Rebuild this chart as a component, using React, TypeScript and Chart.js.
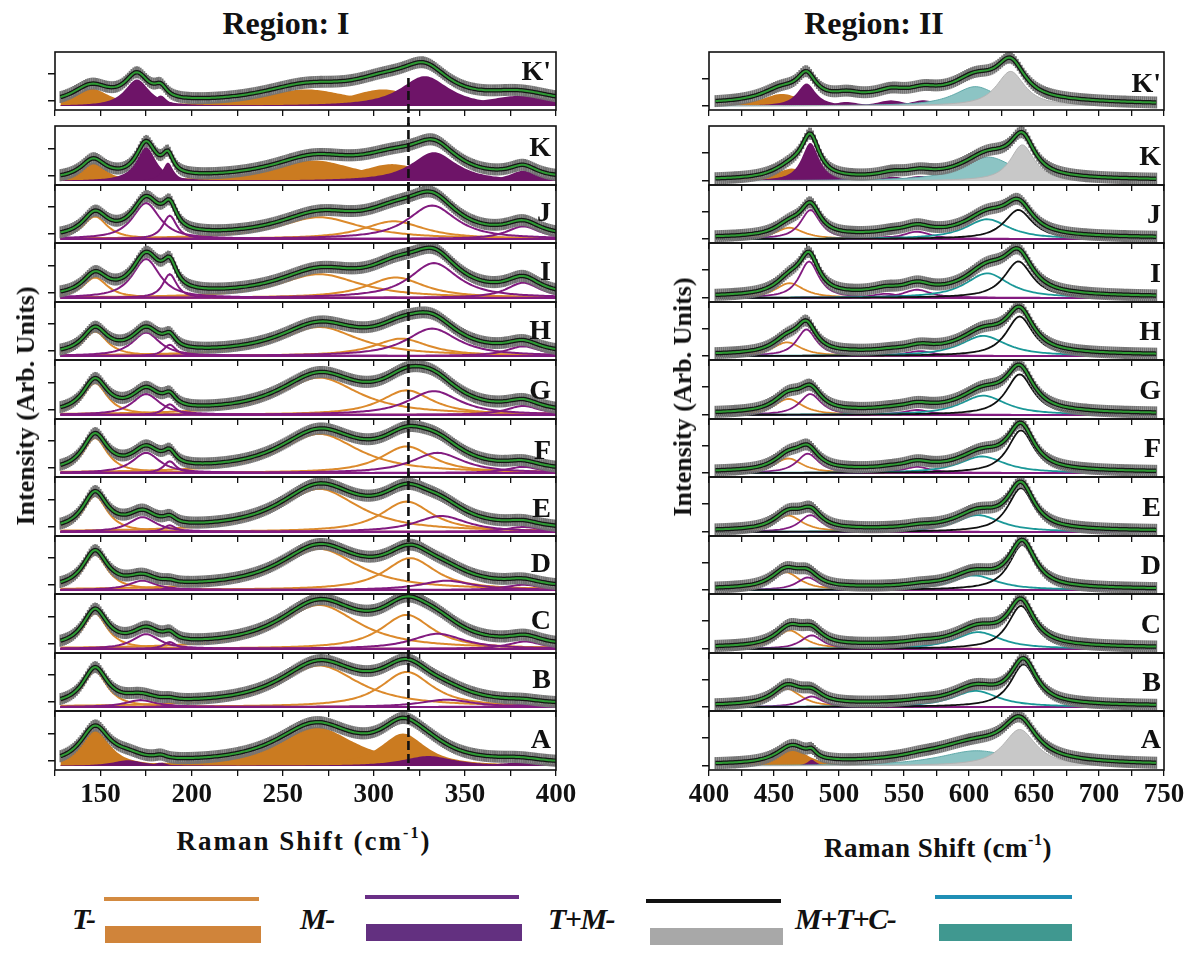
import React, { useEffect, useRef } from "react";
import { Chart, registerables } from "chart.js";

Chart.register(...registerables);

// ------------------------------------------------------------------ DATA
// Panels from bottom (A) to top (K'); every per-panel array below follows this order.
const PANELS = ["A", "B", "C", "D", "E", "F", "G", "H", "I", "J", "K", "K'"];
const FILLED_PANELS = ["A", "K", "K'"];

// Axes
const R1_X_TICKS = [125, 150, 175, 200, 225, 250, 275, 300, 325, 350, 375, 400];
const R1_X_LABELS = [150, 200, 250, 300, 350, 400];
const R2_X_TICKS = [400, 425, 450, 475, 500, 525, 550, 575, 600, 625, 650, 675, 700, 725, 750];
const R2_X_LABELS = [400, 450, 500, 550, 600, 650, 700, 750];
const R1_Y_TICKS = [0.12, 0.79];
const R2_Y_TICKS = [0, 0.68];
const R1_REF_SHIFT = 319; // dashed reference line (cm-1)

// Measured spectra: sampling of the Raman shift and error-bar half size
const R1_SHIFT_FROM = 128;
const R1_SHIFT_TO = 400;
const R1_SHIFT_STEP = 1;
const R2_SHIFT_FROM = 405;
const R2_SHIFT_TO = 745;
const R2_SHIFT_STEP = 1.5;
const R1_ERR = 0.14;
const R2_ERR = 0.14;

// ---- Region I fitted bands (centre cm-1, height arb., FWHM cm-1), per panel A..K'
const R1_T147_CENTER = [147, 147, 147, 147, 147, 147, 147, 147, 147, 147, 146, 145];
const R1_T147_HEIGHT = [0.88, 0.89, 0.87, 0.89, 0.88, 0.87, 0.78, 0.61, 0.5, 0.56, 0.45, 0.43];
const R1_T147_FWHM = [19, 16, 16, 16, 16, 16, 16, 16, 16, 16, 16, 24];

const R1_T270_CENTER = [268, 270, 270, 270, 270, 270, 270, 270, 270, 270, 267, 263];
const R1_T270_HEIGHT = [0.95, 1.03, 1.07, 1.02, 1.05, 0.97, 0.91, 0.72, 0.58, 0.54, 0.5, 0.41];
const R1_T270_FWHM = [52, 52, 52, 52, 52, 52, 52, 52, 54, 54, 56, 60];

const R1_T318_CENTER = [316, 318, 318, 320, 318, 318, 318, 315, 312, 311, 310, 305];
const R1_T318_HEIGHT = [0.79, 0.87, 0.83, 0.79, 0.74, 0.66, 0.6, 0.43, 0.5, 0.44, 0.41, 0.41];
const R1_T318_FWHM = [30, 34, 34, 34, 34, 34, 34, 36, 38, 40, 44, 45];

const R1_M175_CENTER = [165, 172, 175, 173, 173, 175, 175, 175, 175, 175, 175, 170];
const R1_M175_HEIGHT = [0.14, 0.17, 0.36, 0.23, 0.36, 0.5, 0.51, 0.58, 0.95, 0.89, 0.83, 0.66];
const R1_M175_FWHM = [20, 20, 18, 18, 18, 18, 18, 18, 18, 18, 13, 16];

const R1_M188_CENTER = [183, 188, 188, 188, 188, 188, 188, 188, 188, 188, 187, 183];
const R1_M188_HEIGHT = [0.08, 0.04, 0.17, 0.05, 0.16, 0.29, 0.26, 0.28, 0.58, 0.58, 0.45, 0.26];
const R1_M188_FWHM = [8, 8, 8, 8, 8, 8, 8, 8, 9, 9, 7, 8];

const R1_M333_CENTER = [330, 340, 335, 340, 337, 335, 333, 332, 333, 332, 333, 328];
const R1_M333_HEIGHT = [0.24, 0.18, 0.37, 0.23, 0.39, 0.5, 0.58, 0.68, 0.85, 0.83, 0.7, 0.74];
const R1_M333_FWHM = [34, 34, 34, 34, 34, 34, 34, 34, 32, 32, 30, 32];

const R1_M382_CENTER = [380, 382, 383, 382, 382, 382, 382, 382, 382, 382, 382, 380];
const R1_M382_HEIGHT = [0.08, 0.05, 0.18, 0.13, 0.12, 0.15, 0.22, 0.24, 0.37, 0.31, 0.25, 0.25];
const R1_M382_FWHM = [30, 22, 22, 22, 22, 22, 22, 22, 22, 22, 18, 45];

const R1_BACKGROUND = [0.03, 0.03, 0.03, 0.03, 0.03, 0.03, 0.03, 0.03, 0.03, 0.03, 0.03, 0.03];

// ---- Region II fitted bands
const R2_T462_CENTER = [464, 460, 462, 459, 461, 461, 461, 460, 462, 462, 464, 456];
const R2_T462_HEIGHT = [0.43, 0.45, 0.45, 0.44, 0.4, 0.36, 0.39, 0.34, 0.36, 0.28, 0.3, 0.3];
const R2_T462_FWHM = [28, 26, 26, 26, 26, 26, 26, 26, 26, 26, 32, 36];

const R2_M477_CENTER = [479, 479, 479, 476, 478, 476, 478, 475, 477, 478, 478, 475];
const R2_M477_HEIGHT = [0.15, 0.26, 0.33, 0.31, 0.41, 0.48, 0.51, 0.66, 0.89, 0.72, 0.93, 0.56];
const R2_M477_FWHM = [8, 20, 20, 20, 20, 20, 20, 18, 18, 18, 16, 17];

const R2_M505_CENTER = [505, 505, 505, 505, 505, 505, 505, 505, 505, 505, 505, 506];
const R2_M505_HEIGHT = [0, 0, 0, 0, 0, 0, 0, 0, 0, 0, 0, 0.1];
const R2_M505_FWHM = [22, 22, 22, 22, 22, 22, 22, 22, 22, 22, 22, 22];

const R2_M540_CENTER = [540, 540, 540, 540, 540, 540, 540, 540, 536, 540, 541, 540];
const R2_M540_HEIGHT = [0, 0, 0, 0, 0, 0.03, 0.03, 0.03, 0.1, 0.05, 0.1, 0.14];
const R2_M540_FWHM = [25, 25, 25, 25, 25, 25, 25, 25, 25, 25, 25, 25];

const R2_M562_CENTER = [562, 562, 562, 562, 562, 560, 560, 562, 560, 560, 562, 565];
const R2_M562_HEIGHT = [0.03, 0.03, 0.04, 0.04, 0.05, 0.15, 0.12, 0.12, 0.2, 0.18, 0.12, 0.14];
const R2_M562_FWHM = [25, 25, 25, 25, 25, 25, 25, 25, 25, 25, 25, 25];

const R2_C610_CENTER = [606, 605, 607, 604, 607, 610, 611, 611, 614, 614, 615, 605];
const R2_C610_HEIGHT = [0.37, 0.4, 0.41, 0.36, 0.41, 0.41, 0.47, 0.5, 0.6, 0.49, 0.58, 0.48];
const R2_C610_FWHM = [70, 42, 42, 42, 42, 42, 42, 42, 40, 40, 48, 40];

const R2_TM640_CENTER = [639, 642, 640, 641, 640, 640, 639, 639, 638, 638, 641, 632];
const R2_TM640_HEIGHT = [0.89, 1.06, 1.05, 1.12, 1.07, 1.06, 0.99, 0.98, 0.89, 0.72, 0.88, 0.86];
const R2_TM640_FWHM = [30, 24, 24, 24, 24, 24, 25, 25, 26, 26, 22, 26];

// broad, undrawn background hump under the fit of Region II
const R2_HUMP_CENTER = [590, 560, 560, 560, 560, 560, 560, 560, 560, 560, 560, 565];
const R2_HUMP_FWHM = [120, 200, 200, 200, 200, 200, 200, 200, 200, 200, 200, 200];
const R2_HUMP_HEIGHT = [0.16, 0.06, 0.07, 0.03, 0.03, 0.05, 0.07, 0.06, 0.06, 0.07, 0.02, 0.2];
const R2_BACKGROUND = [0.02, 0.02, 0.02, 0.02, 0.02, 0.02, 0.02, 0.02, 0.02, 0.02, 0.02, 0.02];

// Legend
const LEGEND_LABELS = ["T-", "M-", "T+M-", "M+T+C-"];

// ------------------------------------------------------------------ STYLE / LAYOUT
const ETA = 0.9; // Lorentzian fraction of the pseudo-Voigt band shape
const SERIF = '"Liberation Serif", "Times New Roman", serif';

type Kind = "T" | "M" | "C" | "TM";
const COLORS: Record<Kind, { line: string; fill: string; edge: string; edgeWidth: number }> = {
  T: { line: "#dc8a2c", fill: "#cb7b20", edge: "#cb7b20", edgeWidth: 0 },
  M: { line: "#821b80", fill: "#6e1468", edge: "#6e1468", edgeWidth: 0 },
  C: { line: "#1b9898", fill: "#8cc4c4", edge: "#5fa9a9", edgeWidth: 1 },
  TM: { line: "#111111", fill: "#c8c8c8", edge: "#b4b4b4", edgeWidth: 1 },
};

const MARGIN_L = 30;
const MARGIN_R = 30;
const PAD_TOP = 3;
const KP_TOP = 52;
const KP_BOTTOM = 110;
const STACK_TOP = 126;
const STACK_BOTTOM = 770;

type Band = { kind: Kind; center: number[]; height: number[]; fwhm: number[] };

type RegionDef = {
  id: number;
  bands: Band[];
  background: number[];
  hump?: { center: number[]; fwhm: number[]; height: number[] };
  from: number;
  to: number;
  step: number;
  err: number;
  xTicks: number[];
  xLabels: number[];
  yTicks: number[];
  refShift: number | null;
  plotLeft: number;
  plotRight: number;
  letterFrac: number[];
};

const REGION_1: RegionDef = {
  id: 1,
  bands: [
    { kind: "T", center: R1_T147_CENTER, height: R1_T147_HEIGHT, fwhm: R1_T147_FWHM },
    { kind: "T", center: R1_T270_CENTER, height: R1_T270_HEIGHT, fwhm: R1_T270_FWHM },
    { kind: "T", center: R1_T318_CENTER, height: R1_T318_HEIGHT, fwhm: R1_T318_FWHM },
    { kind: "M", center: R1_M175_CENTER, height: R1_M175_HEIGHT, fwhm: R1_M175_FWHM },
    { kind: "M", center: R1_M188_CENTER, height: R1_M188_HEIGHT, fwhm: R1_M188_FWHM },
    { kind: "M", center: R1_M333_CENTER, height: R1_M333_HEIGHT, fwhm: R1_M333_FWHM },
    { kind: "M", center: R1_M382_CENTER, height: R1_M382_HEIGHT, fwhm: R1_M382_FWHM },
  ],
  background: R1_BACKGROUND,
  from: R1_SHIFT_FROM,
  to: R1_SHIFT_TO,
  step: R1_SHIFT_STEP,
  err: R1_ERR,
  xTicks: R1_X_TICKS,
  xLabels: R1_X_LABELS,
  yTicks: R1_Y_TICKS,
  refShift: R1_REF_SHIFT,
  plotLeft: 55,
  plotRight: 556,
  letterFrac: [0.48, 0.44, 0.44, 0.47, 0.52, 0.53, 0.5, 0.49, 0.47, 0.46, 0.36, 0.33],
};

const REGION_2: RegionDef = {
  id: 2,
  bands: [
    { kind: "T", center: R2_T462_CENTER, height: R2_T462_HEIGHT, fwhm: R2_T462_FWHM },
    { kind: "M", center: R2_M477_CENTER, height: R2_M477_HEIGHT, fwhm: R2_M477_FWHM },
    { kind: "M", center: R2_M505_CENTER, height: R2_M505_HEIGHT, fwhm: R2_M505_FWHM },
    { kind: "M", center: R2_M540_CENTER, height: R2_M540_HEIGHT, fwhm: R2_M540_FWHM },
    { kind: "M", center: R2_M562_CENTER, height: R2_M562_HEIGHT, fwhm: R2_M562_FWHM },
    { kind: "C", center: R2_C610_CENTER, height: R2_C610_HEIGHT, fwhm: R2_C610_FWHM },
    { kind: "TM", center: R2_TM640_CENTER, height: R2_TM640_HEIGHT, fwhm: R2_TM640_FWHM },
  ],
  background: R2_BACKGROUND,
  hump: { center: R2_HUMP_CENTER, fwhm: R2_HUMP_FWHM, height: R2_HUMP_HEIGHT },
  from: R2_SHIFT_FROM,
  to: R2_SHIFT_TO,
  step: R2_SHIFT_STEP,
  err: R2_ERR,
  xTicks: R2_X_TICKS,
  xLabels: R2_X_LABELS,
  yTicks: R2_Y_TICKS,
  refShift: null,
  plotLeft: 709,
  plotRight: 1164,
  letterFrac: [0.48, 0.5, 0.5, 0.5, 0.5, 0.5, 0.5, 0.5, 0.5, 0.5, 0.5, 0.53],
};

function bandShape(x: number, c: number, h: number, w: number) {
  const d = (x - c) / (w / 2);
  const d2 = d * d;
  return h * (ETA / (1 + d2) + (1 - ETA) * Math.exp(-Math.LN2 * d2));
}

function shifts(from: number, to: number, step: number) {
  const xs: number[] = [];
  for (let x = from; x <= to + 1e-9; x += step) xs.push(Math.round(x * 100) / 100);
  return xs;
}

function panelBox(i: number) {
  if (i === PANELS.length - 1) return { top: KP_TOP, bottom: KP_BOTTOM };
  const h = (STACK_BOTTOM - STACK_TOP) / (PANELS.length - 1);
  return { top: Math.round(STACK_BOTTOM - (i + 1) * h), bottom: Math.round(STACK_BOTTOM - i * h) };
}

function axisHeight(i: number) {
  if (i === 0) return 48;
  if (i === PANELS.length - 1) return 16;
  return 9;
}

const framePlugin = {
  id: "frame",
  afterDraw(chart: any) {
    const { ctx, chartArea: a } = chart;
    ctx.save();
    ctx.strokeStyle = "#111";
    ctx.lineWidth = 1.6;
    ctx.strokeRect(a.left, a.top, a.right - a.left, a.bottom - a.top);
    ctx.restore();
  },
};

const refLinePlugin = {
  id: "refLine",
  afterDraw(chart: any, _args: any, opts: any) {
    if (!opts || opts.value == null) return;
    const { ctx, chartArea: a } = chart;
    const x = chart.scales.x.getPixelForValue(opts.value);
    const y0 = opts.startFrac > 0 ? a.top + (a.bottom - a.top) * opts.startFrac : 0;
    const y1 = opts.toBottom ? a.bottom : chart.height;
    ctx.save();
    ctx.setLineDash([9, 4]);
    ctx.lineDashOffset = (opts.pageTop + y0) % 13;
    ctx.strokeStyle = "#111";
    ctx.lineWidth = 2.6;
    ctx.beginPath();
    ctx.moveTo(x, y0);
    ctx.lineTo(x, y1);
    ctx.stroke();
    ctx.restore();
  },
};

function buildConfig(region: RegionDef, index: number, pageTop: number): any {
  const name = PANELS[index];
  const filled = FILLED_PANELS.includes(name);
  const bottom = index === 0;
  const xh = axisHeight(index);
  const xs = shifts(region.from, region.to, region.step);
  const comps = region.bands.map((b) =>
    xs.map((x) => bandShape(x, b.center[index], b.height[index], b.fwhm[index]))
  );
  const hump = region.hump;
  const fit = xs.map((x, j) => {
    let s = region.background[index];
    comps.forEach((c) => (s += c[j]));
    if (hump) s += bandShape(x, hump.center[index], hump.height[index], hump.fwhm[index]);
    return s;
  });
  const n = region.bands.length;
  const datasets: any[] = region.bands.map((b, k) => {
    const col = COLORS[b.kind];
    return {
      type: "line",
      data: xs.map((x, j) => ({ x, y: comps[k][j] })),
      borderColor: filled ? col.edge : col.line,
      borderWidth: filled ? col.edgeWidth : region.id === 1 ? 2 : 1.8,
      backgroundColor: col.fill,
      fill: filled ? "origin" : false,
      pointRadius: 0,
      tension: 0,
      order: 10 + n - k,
    };
  });
  datasets.push({
    type: "bar",
    data: xs.map((x, j) => ({ x, y: [fit[j] - region.err, fit[j] + region.err] })),
    backgroundColor: "#747474",
    borderWidth: 0,
    barThickness: 1.3,
    grouped: false,
    order: 3,
  });
  datasets.push({
    type: "line",
    data: xs.map((x, j) => ({ x, y: fit[j] })),
    borderColor: "#151515",
    borderWidth: 4.5,
    pointRadius: 0,
    fill: false,
    order: 2,
  });
  datasets.push({
    type: "line",
    data: xs.map((x, j) => ({ x, y: fit[j] })),
    borderColor: "#2e9a34",
    borderWidth: 2,
    pointRadius: 0,
    fill: false,
    order: 1,
  });

  const xMin = region.xTicks[0];
  const xMax = region.xTicks[region.xTicks.length - 1];

  return {
    type: "line",
    data: { datasets },
    plugins: [framePlugin, refLinePlugin],
    options: {
      animation: false,
      responsive: false,
      maintainAspectRatio: false,
      events: [],
      layout: { padding: { left: MARGIN_L - 10, right: MARGIN_R, top: PAD_TOP, bottom: 0 } },
      plugins: {
        legend: { display: false },
        tooltip: { enabled: false },
        refLine:
          region.refShift == null
            ? false
            : {
                value: region.refShift,
                startFrac: index === PANELS.length - 1 ? 0.41 : 0,
                toBottom: bottom,
                pageTop,
              },
      },
      scales: {
        x: {
          type: "linear",
          min: xMin,
          max: xMax,
          offset: false,
          afterBuildTicks: (s: any) => {
            s.ticks = region.xTicks.map((v) => ({ value: v }));
          },
          afterFit: (s: any) => {
            s.height = xh;
            s.paddingLeft = 0;
            s.paddingRight = 0;
          },
          grid: {
            drawOnChartArea: false,
            drawTicks: true,
            tickLength: 6,
            color: "#111",
            lineWidth: 1.3,
            offset: false,
          },
          border: { display: false },
          ticks: {
            display: bottom,
            autoSkip: false,
            maxRotation: 0,
            minRotation: 0,
            padding: 3,
            color: "#111",
            font: { family: SERIF, size: 27, weight: "bold" },
            callback: (v: any) => (region.xLabels.includes(Number(v)) ? String(v) : ""),
          },
        },
        y: {
          type: "linear",
          min: -0.1,
          max: 1.34,
          afterBuildTicks: (s: any) => {
            s.ticks = region.yTicks.map((v) => ({ value: v }));
          },
          afterFit: (s: any) => {
            s.width = 10;
            s.paddingTop = 0;
            s.paddingBottom = 0;
          },
          grid: {
            drawOnChartArea: false,
            drawTicks: true,
            tickLength: 7,
            color: "#111",
            lineWidth: 1.5,
          },
          border: { display: false },
          ticks: { display: false },
        },
      },
    },
  };
}

function Panel({ region, index }: { region: RegionDef; index: number }) {
  const ref = useRef<HTMLCanvasElement>(null);
  const box = panelBox(index);
  const xh = axisHeight(index);
  const width = region.plotRight - region.plotLeft + MARGIN_L + MARGIN_R;
  const height = PAD_TOP + (box.bottom - box.top) + xh;
  const top = box.top - PAD_TOP;
  useEffect(() => {
    const canvas = ref.current;
    if (!canvas) return;
    const chart = new Chart(canvas, buildConfig(region, index, top));
    return () => chart.destroy();
  }, [region, index, top]);
  return (
    <canvas
      ref={ref}
      width={width}
      height={height}
      style={{ position: "absolute", left: region.plotLeft - MARGIN_L, top, width, height }}
    />
  );
}

function PanelLetters({ region }: { region: RegionDef }) {
  return (
    <>
      {PANELS.map((p, i) => {
        const b = panelBox(i);
        const cy = b.top + (b.bottom - b.top) * region.letterFrac[i];
        return (
          <div
            key={p}
            style={{
              position: "absolute",
              left: region.plotRight - (region.id === 1 ? 5 : 3) - 100,
              width: 100,
              top: cy - 15,
              height: 30,
              lineHeight: "30px",
              textAlign: "right",
              fontFamily: SERIF,
              fontWeight: "bold",
              fontSize: 28,
              color: "#111",
            }}
          >
            {p}
          </div>
        );
      })}
    </>
  );
}

const textBase: React.CSSProperties = {
  position: "absolute",
  fontFamily: SERIF,
  fontWeight: "bold",
  color: "#111",
  whiteSpace: "nowrap",
  lineHeight: 1,
};

function Centered({ x, y, size, children, spacing = 0, rotate = false }: any) {
  return (
    <div
      style={{
        ...textBase,
        left: x,
        top: y,
        fontSize: size,
        letterSpacing: spacing,
        transform: `translate(-50%, -50%)${rotate ? " rotate(-90deg)" : ""}`,
      }}
    >
      {children}
    </div>
  );
}

function Legend() {
  const items = [
    { label: LEGEND_LABELS[0], tx: 72, line: [104, 259, 897, "#d38a40"], bar: [105, 261, 926, "#d0843a"] },
    { label: LEGEND_LABELS[1], tx: 300, line: [365, 519, 895, "#6a2f86"], bar: [366, 522, 924, "#633080"] },
    { label: LEGEND_LABELS[2], tx: 548, line: [646, 781, 899, "#111111"], bar: [650, 783, 928, "#a8a8a8"] },
    { label: LEGEND_LABELS[3], tx: 795, line: [935, 1072, 895, "#1f8fb5"], bar: [939, 1072, 924, "#409890"] },
  ];
  return (
    <>
      {items.map((it) => (
        <React.Fragment key={it.label}>
          <div
            style={{
              position: "absolute",
              left: it.tx,
              top: 919 - 16,
              height: 32,
              lineHeight: "32px",
              fontFamily: SERIF,
              fontStyle: "italic",
              fontWeight: "bold",
              fontSize: 30,
              color: "#111",
              whiteSpace: "nowrap",
              letterSpacing: -1.5,
            }}
          >
            {it.label}
          </div>
          <div
            style={{
              position: "absolute",
              left: it.line[0] as number,
              width: (it.line[1] as number) - (it.line[0] as number),
              top: it.line[2] as number,
              height: 4,
              background: it.line[3] as string,
            }}
          />
          <div
            style={{
              position: "absolute",
              left: it.bar[0] as number,
              width: (it.bar[1] as number) - (it.bar[0] as number),
              top: it.bar[2] as number,
              height: 17,
              background: it.bar[3] as string,
            }}
          />
        </React.Fragment>
      ))}
    </>
  );
}

function Region({ region }: { region: RegionDef }) {
  return (
    <>
      {PANELS.map((p, i) => (
        <Panel key={p} region={region} index={i} />
      )).reverse()}
      <PanelLetters region={region} />
    </>
  );
}

export default function App() {
  const sup = { fontSize: "0.6em", verticalAlign: "0.75em" } as React.CSSProperties;
  return (
    <div style={{ position: "absolute", left: 0, top: 0, width: 1192, height: 975, background: "#fff" }}>
      <Centered x={286} y={23} size={32}>Region: I</Centered>
      <Centered x={874} y={23} size={32}>Region: II</Centered>

      <Region region={REGION_1} />
      <Region region={REGION_2} />

      <Centered x={26} y={406} size={26} rotate>
        Intensity (Arb. Units)
      </Centered>
      <Centered x={683} y={397} size={26} rotate>
        Intensity (Arb. Units)
      </Centered>

      <Centered x={304} y={840} size={27} spacing={2}>
        Raman Shift (cm<span style={sup}>-1</span>)
      </Centered>
      <Centered x={938} y={847} size={27} spacing={0.5}>
        Raman Shift (cm<span style={sup}>-1</span>)
      </Centered>

      <Legend />
    </div>
  );
}
